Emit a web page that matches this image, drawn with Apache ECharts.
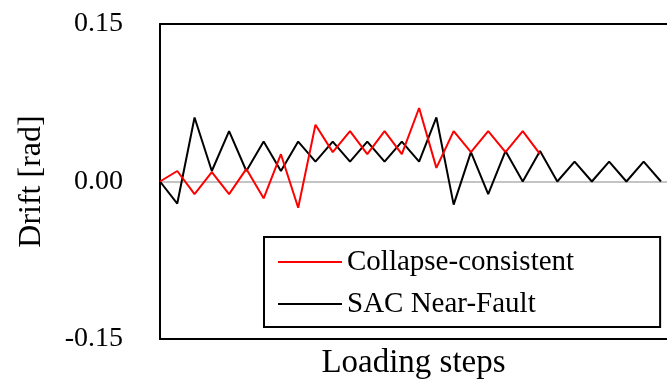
<!DOCTYPE html>
<html>
<head>
<meta charset="utf-8">
<script src="https://cdn.jsdelivr.net/npm/echarts@6/dist/echarts.min.js"></script>
<style>
html,body{margin:0;padding:0;background:#fff;}
#chart{width:667px;height:385px;}
</style>
</head>
<body>
<div id="chart"></div>
<script>
// Loading step indices (0..29)
var steps = [];
for (var i = 0; i < 30; i++) steps.push(i);

var seriesNames = ['Collapse-consistent', 'SAC Near-Fault'];

var collapseConsistent = [0, 0.010, -0.012, 0.009, -0.012, 0.012, -0.016, 0.026, -0.025, 0.054,
  0.028, 0.048, 0.026, 0.048, 0.026, 0.070, 0.013, 0.048, 0.028, 0.048,
  0.028, 0.048, 0.026];

var sacNearFault = [0, -0.021, 0.061, 0.010, 0.048, 0.010, 0.038, 0.010, 0.038, 0.019,
  0.038, 0.019, 0.038, 0.019, 0.038, 0.019, 0.061, -0.022, 0.028, -0.012,
  0.029, 0, 0.029, 0, 0.019, 0, 0.019, 0, 0.019, 0];

var yTicks = [-0.15, 0, 0.15];

function pairs(vals) {
  return vals.map(function (v, k) { return [steps[k], v]; });
}

var FONT = 'Liberation Serif';
var chart = echarts.init(document.getElementById('chart'));
chart.setOption({
  backgroundColor: '#fff',
  animation: false,
  grid: { left: 160, top: 24, right: 0, bottom: 45, containLabel: false },
  legend: {
    orient: 'vertical',
    left: 264,
    top: 237,
    data: seriesNames,
    icon: 'rect',
    itemWidth: 64,
    itemHeight: 2,
    itemGap: 12,
    padding: [10, 86, 8, 14],
    borderColor: '#000',
    borderWidth: 2,
    borderRadius: 0,
    backgroundColor: '#fff',
    textStyle: { fontFamily: FONT, fontSize: 29, color: '#000', lineHeight: 30 }
  },
  xAxis: [{
    type: 'value',
    min: 0,
    max: 29.35,
    position: 'bottom',
    name: 'Loading steps',
    nameLocation: 'middle',
    nameGap: 8,
    nameTextStyle: { fontFamily: FONT, fontSize: 33, color: '#000' },
    axisLine: { show: true, onZero: false, lineStyle: { color: '#000', width: 2 } },
    axisTick: { show: false },
    axisLabel: { show: false },
    splitLine: { show: false }
  }, {
    type: 'value',
    min: 0,
    max: 29.35,
    position: 'top',
    axisLine: { show: true, onZero: false, lineStyle: { color: '#000', width: 2 } },
    axisTick: { show: false },
    axisLabel: { show: false },
    splitLine: { show: false }
  }],
  yAxis: {
    type: 'value',
    min: -0.15,
    max: 0.15,
    interval: 0.15,
    name: 'Drift [rad]',
    nameLocation: 'middle',
    nameRotate: 90,
    nameGap: 112,
    nameTextStyle: { fontFamily: FONT, fontSize: 32, color: '#000' },
    axisLine: { show: true, onZero: false, lineStyle: { color: '#000', width: 2 } },
    axisTick: { show: false },
    splitLine: { show: false },
    axisLabel: {
      margin: 37,
      fontFamily: FONT,
      fontSize: 28,
      color: '#000',
      formatter: function (v) { return v.toFixed(2); }
    }
  },
  series: [{
    name: seriesNames[0],
    type: 'line',
    data: pairs(collapseConsistent),
    symbol: 'none',
    z: 3,
    lineStyle: { color: '#ff0000', width: 2 },
    itemStyle: { color: '#ff0000' },
    markLine: {
      silent: true,
      symbol: 'none',
      label: { show: false },
      lineStyle: { color: '#b0b0b0', width: 1.5, type: 'solid' },
      data: [{ yAxis: yTicks[1] }],
      z: 1
    }
  }, {
    name: seriesNames[1],
    type: 'line',
    data: pairs(sacNearFault),
    symbol: 'none',
    z: 2,
    lineStyle: { color: '#000', width: 2 },
    itemStyle: { color: '#000' }
  }]
});
</script>
</body>
</html>
